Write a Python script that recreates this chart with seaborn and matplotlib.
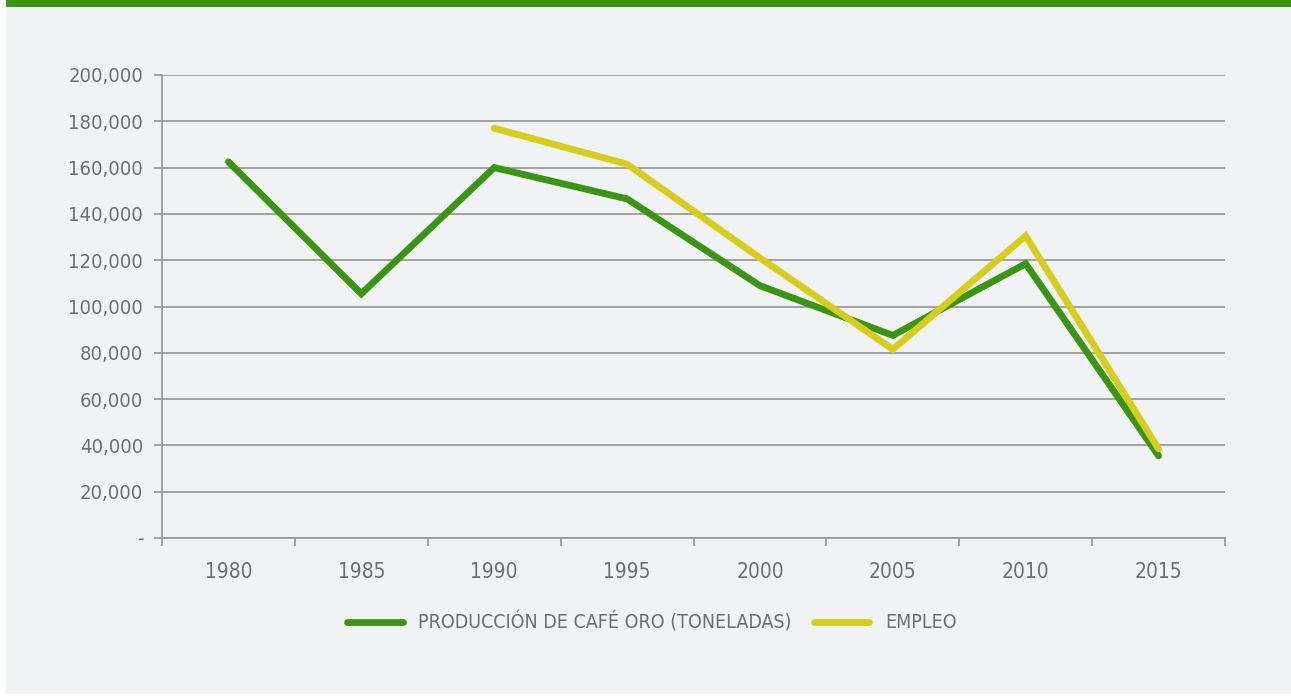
import numpy as np
import pandas as pd
import matplotlib.pyplot as plt
import matplotlib.ticker as mticker
from matplotlib.patches import Rectangle
import seaborn as sns

years = ["1980", "1985", "1990", "1995", "2000", "2005", "2010", "2015"]
produccion = [162500, 105500, 160000, 146500, 109000, 87500, 118500, 35500]
empleo = [np.nan, np.nan, 177000, 161500, 121000, 81500, 130500, 38500]
series_names = ["PRODUCCIÓN DE CAFÉ ORO (TONELADAS)", "EMPLEO"]
yticks = [0, 20000, 40000, 60000, 80000, 100000, 120000, 140000, 160000, 180000, 200000]

df = pd.DataFrame({
    "year": years * 2,
    "value": produccion + empleo,
    "serie": [series_names[0]] * len(years) + [series_names[1]] * len(years),
})

sns.set_style("white")
plt.rcParams["font.family"] = ["DejaVu Sans"]
plt.rcParams["font.stretch"] = "condensed"

bg = "#f1f2f4"
txt = "#6d6e71"
gridc = "#9b9b9b"
green = "#3a9514"
yellow = "#d7cd1d"

fig = plt.figure(figsize=(12.91, 6.97), dpi=100, facecolor="white")
fig.patches.append(Rectangle((6 / 1291, 3 / 697), 1 - 6 / 1291, 1 - 3 / 697,
                             transform=fig.transFigure, facecolor=bg, edgecolor="none", zorder=-3))
fig.patches.append(Rectangle((6 / 1291, 1 - 7 / 697), 1 - 6 / 1291, 7 / 697,
                             transform=fig.transFigure, facecolor=green, edgecolor="none", zorder=-2))

ax = fig.add_axes([162 / 1291, 1 - 538 / 697, (1225 - 162) / 1291, (538 - 75) / 697])
ax.set_facecolor(bg)

sns.lineplot(data=df, x="year", y="value", hue="serie", palette=[green, yellow],
             linewidth=4.9, ax=ax, legend=True, sort=False)
for ln in ax.get_lines():
    ln.set_solid_capstyle("round")
    ln.set_solid_joinstyle("miter")

ax.set_xlim(-0.5, len(years) - 0.5)
ax.set_ylim(0, 200000)
ax.set_yticks(yticks)
ax.yaxis.set_major_formatter(mticker.FuncFormatter(lambda v, p: "-" if v == 0 else f"{int(v):,}"))
ax.set_xticks(range(len(years)))
ax.set_xticklabels(years)
ax.xaxis.set_minor_locator(mticker.FixedLocator(np.arange(-0.5, len(years), 1.0)))
ax.tick_params(axis="x", which="major", bottom=True, length=0, pad=17, labelsize=15, labelcolor=txt)
ax.tick_params(axis="x", which="minor", bottom=True, direction="out", length=5.5, width=1.3, color=gridc)
ax.tick_params(axis="y", left=True, direction="out", length=5.5, width=1.3, color=gridc,
               labelsize=14.5, labelcolor=txt, pad=8)
ax.grid(axis="y", color=gridc, linewidth=1.3)
ax.set_axisbelow(True)
for s in ["top", "right"]:
    ax.spines[s].set_visible(False)
for s in ["left", "bottom"]:
    ax.spines[s].set_color(gridc)
    ax.spines[s].set_linewidth(1.3)
ax.set_xlabel("")
ax.set_ylabel("")

handles, labels = ax.get_legend_handles_labels()
ax.legend(handles, labels, loc="center", bbox_to_anchor=(0.505, (697 - 622) / 697), bbox_transform=fig.transFigure,
          ncol=2, frameon=False, fontsize=14, labelcolor=txt, handlelength=2.83, handletextpad=0.82,
          columnspacing=1.13)

plt.savefig("out.png", dpi=100, facecolor="white")
